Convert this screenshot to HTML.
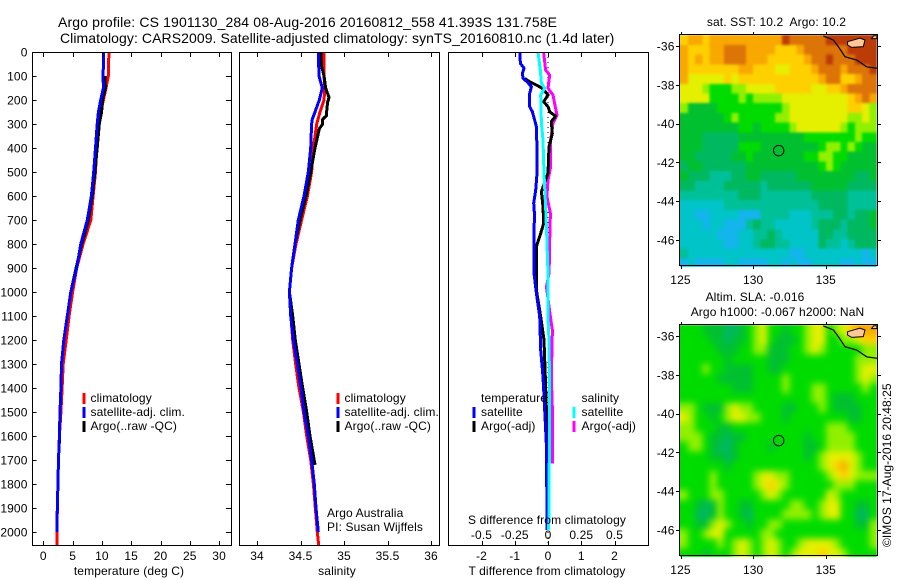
<!DOCTYPE html>
<html lang="en">
<head>
<meta charset="utf-8">
<title>Argo profile</title>
<style>
html,body{margin:0;padding:0;background:#fff;}
svg{display:block;}
text{font-family:"Liberation Sans",sans-serif;font-size:12px;fill:#000;letter-spacing:0.12px;}
.title{font-size:14px;}
.frame{fill:none;stroke:#000;stroke-width:1;shape-rendering:crispEdges;}
.tick{stroke:#000;stroke-width:1;shape-rendering:crispEdges;}
.mark{stroke-width:3;fill:none;shape-rendering:crispEdges;stroke-linejoin:round;}
.key{stroke-width:3;shape-rendering:crispEdges;}
</style>
</head>
<body>
<svg id="chart" xmlns="http://www.w3.org/2000/svg" width="900" height="580" viewBox="0 0 900 580">
  <defs>
    <filter id="soften-sst" color-interpolation-filters="sRGB"><feGaussianBlur stdDeviation="1.2"/></filter>
    <filter id="soften-sla" color-interpolation-filters="sRGB"><feGaussianBlur stdDeviation="3.5"/></filter>
  </defs>
  <rect width="900" height="580" fill="#fff"/>
  <text class="title" style="letter-spacing:0.14px" x="58" y="27">Argo profile: CS 1901130_284 08-Aug-2016 20160812_558 41.393S 131.758E</text>
  <text class="title" style="letter-spacing:0.076px" x="60" y="43">Climatology: CARS2009. Satellite-adjusted climatology: synTS_20160810.nc (1.4d later)</text>

  <g id="series-layer"></g>
  <g id="axis-layer"></g>

  <text x="129" y="575" text-anchor="middle">temperature (deg C)</text>
  <text x="337" y="575" text-anchor="middle">salinity</text>
  <text x="547" y="575" text-anchor="middle">T difference from climatology</text>
  <text x="547" y="524" text-anchor="middle">S difference from climatology</text>

  <g>
    <line class="key" x1="84" x2="84" y1="393" y2="404" stroke="#f00"/>
    <text x="90.5" y="402">climatology</text>
    <line class="key" x1="84" x2="84" y1="407" y2="418" stroke="#00f"/>
    <text x="90.5" y="416">satellite-adj. clim.</text>
    <line class="key" x1="84" x2="84" y1="421" y2="432" stroke="#000"/>
    <text x="90.5" y="430">Argo(..raw -QC)</text>
  </g>
  <g>
    <line class="key" x1="338" x2="338" y1="393" y2="404" stroke="#f00"/>
    <text x="344.5" y="402">climatology</text>
    <line class="key" x1="338" x2="338" y1="407" y2="418" stroke="#00f"/>
    <text x="344.5" y="416">satellite-adj. clim.</text>
    <line class="key" x1="338" x2="338" y1="421" y2="432" stroke="#000"/>
    <text x="344.5" y="430">Argo(..raw -QC)</text>
  </g>
  <text x="327" y="517">Argo Australia</text>
  <text x="327" y="531">PI: Susan Wijffels</text>
  <g>
    <text x="481" y="402">temperature</text>
    <line class="key" x1="474" x2="474" y1="407" y2="418" stroke="#00f"/>
    <text x="481" y="416">satellite</text>
    <line class="key" x1="474" x2="474" y1="421" y2="432" stroke="#000"/>
    <text x="481" y="430">Argo(-adj)</text>
    <text x="581.5" y="402">salinity</text>
    <line class="key" x1="574" x2="574" y1="407" y2="418" stroke="#0ff"/>
    <text x="581.5" y="416">satellite</text>
    <line class="key" x1="574" x2="574" y1="421" y2="432" stroke="#f0f"/>
    <text x="581.5" y="430">Argo(-adj)</text>
  </g>

  <g id="map-layer"></g>
  <text x="776.5" y="26" text-anchor="middle" xml:space="preserve">sat. SST: 10.2  Argo: 10.2</text>
  <text x="755" y="301" text-anchor="middle">Altim. SLA: -0.016</text>
  <text x="777.5" y="316" text-anchor="middle">Argo h1000: -0.067 h2000: NaN</text>
  <text style="letter-spacing:0.05px" transform="translate(891,547) rotate(-90)">©IMOS 17-Aug-2016 20:48:25</text>
</svg>
<script>
// ---------- profile data (depth in dbar) ----------
const tempClimDepth = [0,100,150,200,300,400,500,600,700,800,900,1000,1100,1200,1300,1400,1500,1600,1700,1800,1900,2000,2054];
const tempClimValue = [11.2,11.1,10.7,10.25,9.4,9.1,8.9,8.5,8.1,6.8,5.7,5.0,4.4,3.9,3.4,3.2,3.0,2.75,2.6,2.5,2.4,2.3,2.3];
const tempSatDepth = [0,100,150,200,250,300,400,500,600,700,800,900,1000,1100,1200,1300,1400,1500,1600,1700,1800,1900,1950,2000];
const tempSatValue = [10.3,10.2,10.25,9.8,9.4,9.2,8.9,8.6,8.2,7.5,6.4,5.7,4.7,4.1,3.5,3.1,3.0,2.85,2.75,2.6,2.5,2.4,2.3,2.3];
const tempArgoDepth = [100,150,200,250,300,400,500,600,700,800,900,1000,1100,1200,1300,1400,1500,1660];
const tempArgoValue = [10.5,10.6,10.1,9.95,9.55,9.2,8.8,8.35,7.7,6.55,5.6,4.7,4.1,3.5,3.1,3.0,2.85,2.7];

const salClimDepth = [0,100,150,200,250,300,400,500,600,700,800,900,1000,1100,1200,1300,1400,1500,1600,1700,1800,1900,2000,2054];
const salClimValue = [34.77,34.77,34.78,34.77,34.724,34.686,34.648,34.628,34.579,34.513,34.448,34.398,34.372,34.39,34.41,34.444,34.483,34.533,34.571,34.617,34.648,34.67,34.693,34.709];
const salSatDepth = [0,100,150,200,250,280,300,400,500,600,700,800,900,1000,1100,1200,1300,1400,1500,1600,1700,1800,1900,2000];
const salSatValue = [34.705,34.713,34.751,34.716,34.667,34.636,34.628,34.617,34.59,34.54,34.475,34.437,34.398,34.372,34.387,34.418,34.464,34.506,34.54,34.59,34.628,34.659,34.678,34.705];
const salArgoDepth = [0,60,100,150,190,210,250,265,280,300,320,400,500,600,700,800,900,1000,1100,1200,1300,1400,1500,1600,1720];
const salArgoValue = [34.732,34.743,34.77,34.79,34.828,34.812,34.8,34.8,34.755,34.755,34.716,34.667,34.617,34.563,34.494,34.437,34.398,34.372,34.41,34.44,34.483,34.525,34.571,34.609,34.667];

const diffTSatDepth = [0,47,68,89,110,124,144,172,228,249,311,408,505,575,630,672,783,922,1005,1103,1242,1353,1492,1630,1770,1992];
const diffTSatValue = [-0.85,-0.83,-0.72,-0.77,-0.75,-0.63,-0.5,-0.55,-0.55,-0.47,-0.35,-0.33,-0.33,-0.37,-0.43,-0.41,-0.42,-0.42,-0.35,-0.25,-0.22,-0.15,-0.1,-0.05,-0.04,-0.03];
const diffTArgoDepth = [110,124,138,151,179,207,228,249,267,290,339,394,505,582,644,714,769,811,922,992,1103,1200,1353,1478,1660];
const diffTArgoValue = [-0.7,-0.55,-0.35,-0.17,0,-0.13,0,0.05,0.23,0.1,0.13,0.03,0,-0.2,-0.15,-0.13,-0.25,-0.35,-0.35,-0.35,-0.22,-0.12,-0.08,-0.05,-0.04];
const diffSSatDepth = [0,75,130,151,179,297,367,505,644,783,922,1103,1214,1492,1992];
const diffSSatValue = [-0.075,-0.058,-0.05,-0.025,-0.055,-0.05,-0.0375,-0.03,-0.018,-0.008,0,0,0.008,0.0125,0.005];
const diffSArgoDepth = [0,75,96,151,179,214,262,297,367,478,533,603,672,783,922,978,1103,1158,1353,1492,1714];
const diffSArgoValue = [-0.033,-0.018,0.013,0,0.0375,0.05,0.068,0.0375,0.02,0.02,0,-0.008,0.018,0.013,0.008,-0.012,0.018,0.033,0.025,0.033,0.033];

// ---------- tick labels ----------
const depthTicks = [0,100,200,300,400,500,600,700,800,900,1000,1100,1200,1300,1400,1500,1600,1700,1800,1900,2000];
const tempTicks = [0,5,10,15,20,25,30];
const salTicks = [34,34.5,35,35.5,36];
const diffTTicks = [-2,-1,0,1,2];
const diffSTicks = [-0.5,-0.25,0,0.25,0.5];
const lonTicks = [125,130,135];
const latTicks = [36,38,40,42,44,46];

// ---------- map data: rows run north to south, columns west to east, 0.5 degree cells (colour level) ----------
const sstLevels = [
[8,9,9,8,9,9,9,9,9,9,9,9,9,9,11,10,10,10,10,10,11,11,11,11,11,11,11],
[9,8,8,8,9,9,10,10,10,9,9,9,9,8,8,8,9,10,10,10,10,10,10,11,11,11,11],
[9,8,9,8,9,9,10,10,10,9,9,9,8,8,8,8,8,9,10,10,11,10,10,10,11,11,11],
[9,8,8,8,8,8,8,8,9,9,8,8,8,7,7,8,8,8,9,10,10,10,9,10,10,10,11],
[9,7,7,7,7,7,8,7,8,8,8,8,8,8,8,8,8,8,8,9,10,10,8,8,9,10,10],
[7,7,7,6,5,5,5,6,6,7,7,7,7,8,8,8,8,8,7,7,8,8,9,10,10,10,10],
[7,7,7,7,5,5,5,5,6,5,6,6,6,6,7,7,7,7,7,7,7,7,7,8,9,10,9],
[6,4,4,4,4,5,5,5,5,5,5,5,5,5,6,7,7,7,7,7,7,7,7,8,8,7,6],
[4,4,4,4,4,4,5,6,5,5,5,5,5,6,6,7,7,7,7,7,7,7,7,6,6,7,6],
[4,4,4,4,4,4,4,4,5,5,4,5,5,5,5,6,7,7,7,7,7,7,6,5,6,6,6],
[4,4,4,3,3,3,3,3,4,4,4,4,4,4,4,4,4,5,5,5,5,5,5,5,6,5,5],
[4,4,4,3,3,3,3,3,5,5,5,4,4,4,4,4,4,4,4,5,6,6,5,6,5,4,4],
[4,4,3,3,3,3,3,4,4,5,4,4,4,4,4,4,4,5,5,6,6,5,5,4,4,4,4],
[3,4,4,3,3,3,3,3,3,4,4,4,4,4,4,4,4,4,4,5,6,5,4,4,4,4,4],
[4,3,3,3,2,2,2,3,3,4,4,3,3,3,3,3,4,4,4,4,4,4,4,4,3,3,4],
[3,3,2,2,2,2,3,3,3,3,3,2,3,3,3,3,3,3,4,4,4,4,4,3,3,3,3],
[2,2,2,2,2,2,2,2,3,3,3,2,2,2,2,2,2,2,3,3,3,3,3,2,2,2,2],
[1,1,1,1,1,1,2,2,2,2,2,2,2,2,2,2,2,2,2,3,3,3,3,2,2,2,2],
[1,1,0,0,1,1,1,1,0,0,0,2,2,2,2,1,1,1,2,2,2,3,3,2,3,3,4],
[1,1,1,0,1,1,0,0,0,2,3,2,2,1,1,1,1,1,2,3,3,3,2,3,3,3,4],
[1,1,1,1,1,0,0,0,1,1,2,2,3,2,1,1,1,1,1,3,3,2,2,3,3,3,3],
[1,1,1,1,1,1,0,0,1,1,2,3,3,2,2,1,1,1,1,3,2,2,1,2,3,3,3],
[2,1,1,1,1,1,1,1,1,1,1,1,1,1,1,0,0,1,1,1,1,1,1,1,1,0,1],
[0,1,0,0,0,0,1,1,0,0,0,0,1,1,0,1,0,0,1,1,1,1,0,0,1,0,0]
];
const slaLevels = [
[5,5,5,4,4,4,3,3,4,5,6,7,5,5,4,5,5,6,7,7,5,6,7,8,9,9,9],
[5,5,5,5,4,4,3,4,4,5,6,7,5,4,4,4,5,6,7,7,5,5,6,6,7,8,8],
[5,5,5,5,5,4,4,4,5,5,6,6,4,4,4,5,5,6,7,6,5,5,5,5,5,6,6],
[5,5,5,5,5,5,4,5,5,5,5,5,4,4,4,5,5,5,5,5,5,5,5,5,6,6,6],
[5,5,5,6,5,5,4,4,4,4,5,5,4,4,5,5,5,5,5,5,5,5,5,5,6,7,7],
[5,5,5,5,5,4,4,4,4,4,5,5,5,5,6,5,5,5,5,5,5,5,5,5,6,7,6],
[5,5,5,5,5,5,5,4,4,4,5,5,5,5,6,5,5,5,6,6,5,5,5,5,5,6,5],
[5,5,5,5,5,5,5,5,5,5,5,5,5,5,5,5,5,5,6,6,5,4,4,4,5,5,5],
[6,6,5,4,4,4,6,7,6,6,5,5,5,5,4,4,5,5,5,6,5,4,4,4,4,5,5],
[7,6,5,5,4,5,6,7,7,6,6,5,5,5,4,5,5,5,5,5,5,5,5,4,4,5,5],
[6,6,5,5,5,4,4,5,5,5,5,5,5,5,5,5,5,5,5,5,6,6,6,5,5,5,5],
[6,6,6,5,4,4,3,4,4,5,5,5,5,5,5,5,5,4,5,5,6,6,6,6,5,5,5],
[5,6,6,5,4,3,3,4,5,5,5,5,4,5,5,5,5,4,4,5,6,6,6,6,5,5,5],
[5,5,5,5,4,4,3,4,5,5,5,5,5,5,5,5,5,4,5,6,7,7,7,7,6,5,5],
[5,5,5,5,5,5,4,5,5,5,5,5,5,5,5,5,5,5,5,6,7,8,9,7,6,5,5],
[5,5,5,5,6,5,5,5,5,5,6,7,7,6,6,5,5,5,5,5,6,7,8,7,6,6,6],
[5,5,5,5,6,5,5,5,5,5,6,7,8,7,6,5,5,5,5,5,5,6,6,6,5,5,5],
[6,5,5,5,6,6,5,5,5,5,5,6,7,6,5,5,5,5,5,5,7,6,5,5,5,5,5],
[5,5,4,3,4,6,5,5,4,4,5,5,5,5,5,6,6,5,5,6,7,7,5,5,4,4,5],
[5,5,3,3,4,6,5,5,4,3,5,5,5,5,6,6,6,6,5,6,7,7,5,5,3,3,5],
[5,5,4,4,6,7,6,5,5,4,5,5,6,6,5,5,5,5,5,5,5,5,5,5,4,4,6],
[6,5,5,6,7,7,5,5,5,5,5,6,6,5,5,5,5,5,5,5,5,5,5,5,5,5,6],
[6,5,5,5,5,6,5,6,7,6,5,6,7,6,5,5,6,7,7,7,7,6,5,5,5,5,6],
[5,5,5,4,5,5,5,6,7,6,5,6,7,6,5,6,7,7,7,8,7,7,6,5,5,5,5]
];
const coastLon = [134.83,135.52,135.86,136.32,137.13,137.81,138.54];
const coastLat = [35.48,35.69,36.03,36.55,36.72,37.07,37.15];
const islandLon = [136.5,137.35,137.7,137.58,136.78,136.5];
const islandLat = [35.78,35.6,35.69,36.03,36.07,35.95];
const headlandLon = [138.15,138.3,138.52,138.52];
const headlandLat = [35.62,35.47,35.47,35.62];
const argoLon = [131.758];
const argoLat = [41.393];

// ---------- drawing ----------
const NS = 'http://www.w3.org/2000/svg';
const chartRoot = document.getElementById('chart');
const seriesLayer = document.getElementById('series-layer');
const axisLayer = document.getElementById('axis-layer');
const mapLayer = document.getElementById('map-layer');
const palette = ['#14b4ec','#00c4c8','#00c098','#00b860','#00c030','#00dc00','#90f000','#e4f000','#ffd000','#f8a800','#dc7408','#bc3c08'];

function make(tag, parent) {
  const el = document.createElementNS(NS, tag);
  parent.appendChild(el);
  return el;
}
const yDepth = d => 52 + 0.24 * d;
const xTemp = v => 43.3 + 5.86 * v;
const xSal = v => 257 + 87 * (v - 34);
const xDiffT = v => 548 + 33.25 * v;
const xDiffS = v => 548 + 133 * v;

function drawFrame(x0, x1, y0, y1, name) {
  const r = make('rect', axisLayer);
  r.setAttribute('class', 'frame');
  r.setAttribute('x', x0);
  r.setAttribute('y', y0);
  r.setAttribute('width', x1 - x0);
  r.setAttribute('height', y1 - y0);
  
  
}
function tickLine(parent, x1, y1, x2, y2) {
  const l = make('line', parent);
  l.setAttribute('class', 'tick');
  l.setAttribute('x1', x1);
  l.setAttribute('y1', y1);
  l.setAttribute('x2', x2);
  l.setAttribute('y2', y2);
  
  
}
function tickText(parent, x, y, anchor, str) {
  const t = make('text', parent);
  t.setAttribute('x', x);
  t.setAttribute('y', y);
  t.setAttribute('text-anchor', anchor);
  t.textContent = str;
  
  
}
function drawSeries(depths, values, xFn, color, name) {
  const p = make('polyline', seriesLayer);
  p.setAttribute('class', 'mark');
  p.setAttribute('stroke', color);
  p.setAttribute('points', depths.map((d, i) => xFn(values[i]).toFixed(1) + ',' + yDepth(d).toFixed(1)).join(' '));
  
  
}

// zero reference line in the difference panel
const zeroLine = make('line', seriesLayer);
zeroLine.setAttribute('x1', xDiffT(0));
zeroLine.setAttribute('x2', xDiffT(0));
zeroLine.setAttribute('y1', yDepth(0));
zeroLine.setAttribute('y2', yDepth(2054));
zeroLine.setAttribute('stroke', '#000');
zeroLine.setAttribute('stroke-dasharray', '1 4');
zeroLine.setAttribute('shape-rendering', 'crispEdges');



drawSeries(tempClimDepth, tempClimValue, xTemp, '#f00', 'temperature-climatology-line');
drawSeries(tempArgoDepth, tempArgoValue, xTemp, '#000', 'temperature-argo-line');
drawSeries(tempSatDepth, tempSatValue, xTemp, '#00f', 'temperature-satellite-line');
drawSeries(salClimDepth, salClimValue, xSal, '#f00', 'salinity-climatology-line');
drawSeries(salArgoDepth, salArgoValue, xSal, '#000', 'salinity-argo-line');
drawSeries(salSatDepth, salSatValue, xSal, '#00f', 'salinity-satellite-line');
drawSeries(diffSArgoDepth, diffSArgoValue, xDiffS, '#f0f', 's-difference-argo-line');
drawSeries(diffTArgoDepth, diffTArgoValue, xDiffT, '#000', 't-difference-argo-line');
drawSeries(diffTSatDepth, diffTSatValue, xDiffT, '#00f', 't-difference-satellite-line');
drawSeries(diffSSatDepth, diffSSatValue, xDiffS, '#0ff', 's-difference-satellite-line');

// frames
drawFrame(32.5, 231.5, 52.5, 545.5, 'temperature-panel-frame');
drawFrame(239.5, 439.5, 52.5, 545.5, 'salinity-panel-frame');
drawFrame(448.5, 648.5, 52.5, 545.5, 'difference-panel-frame');

// depth ticks
depthTicks.forEach(d => {
  const y = Math.round(yDepth(d)) + 0.5;
  tickLine(axisLayer, 32.5, y, 36.5, y);
  tickLine(axisLayer, 226, y, 231.5, y);
  tickText(axisLayer, 27.5, yDepth(d) + 4.5, 'end', String(d));
});
// bottom / top ticks
tempTicks.forEach(v => {
  const x = Math.round(xTemp(v)) + 0.5;
  tickLine(axisLayer, x, 52.5, x, 57);
  tickLine(axisLayer, x, 541, x, 545.5);
  tickText(axisLayer, xTemp(v), 560, 'middle', String(v));
});
salTicks.forEach(v => {
  const x = Math.round(xSal(v)) + 0.5;
  tickLine(axisLayer, x, 52.5, x, 57);
  tickLine(axisLayer, x, 541, x, 545.5);
  tickText(axisLayer, xSal(v), 560, 'middle', String(v));
});
diffTTicks.forEach(v => {
  const x = Math.round(xDiffT(v)) + 0.5;
  tickLine(axisLayer, x, 52.5, x, 57);
  tickLine(axisLayer, x, 541, x, 545.5);
  tickText(axisLayer, xDiffT(v), 560, 'middle', String(v));
});
diffSTicks.forEach(v => {
  tickText(axisLayer, xDiffS(v), 539, 'middle', String(v));
});

// maps
const xLon = lon => 680.5 + 14.53 * (lon - 125);
const yLat = (lat, base) => base + 19.4 * (lat - 36);

function linePath(lons, lats, base, closed) {
  return lons.map((lon, i) => (i ? 'L' : 'M') + xLon(lon).toFixed(1) + ' ' + yLat(lats[i], base).toFixed(1)).join(' ') + (closed ? ' Z' : '');
}
function drawMap(levels, base, prefix, softenId) {
  const top = base - 10.7;
  const bottom = base + 220.8;
  const g = make('g', mapLayer);
  
  

  // clip the softened image to the plot area
  const clip = make('clipPath', g);
  clip.setAttribute('id', prefix + '-clip');
  const clipRect = make('rect', clip);
  clipRect.setAttribute('x', 680);
  clipRect.setAttribute('y', top);
  clipRect.setAttribute('width', 196.7);
  clipRect.setAttribute('height', bottom - top);
  const clipper = make('g', g);
  clipper.setAttribute('clip-path', 'url(#' + prefix + '-clip)');
  
  
  const cells = make('g', clipper);
  cells.setAttribute('filter', 'url(#' + softenId + ')');
  
  

  levels.forEach((row, j) => {
    row.forEach((level, i) => {
      const c = make('rect', cells);
      let x0 = xLon(125 + i * 0.5);
      let x1 = xLon(125 + (i + 1) * 0.5);
      let y0 = yLat(35.45 + j * 0.5, base);
      let y1 = yLat(35.45 + (j + 1) * 0.5, base);
      if (i === 0) x0 -= 12;
      if (i === row.length - 1) x1 += 12;
      if (j === 0) y0 -= 12;
      if (j === levels.length - 1) y1 += 12;
      c.setAttribute('x', x0.toFixed(2));
      c.setAttribute('y', y0.toFixed(2));
      c.setAttribute('width', (x1 - x0 + 0.4).toFixed(2));
      c.setAttribute('height', (y1 - y0 + 0.4).toFixed(2));
      c.setAttribute('fill', palette[level]);
      c.setAttribute('shape-rendering', 'crispEdges');
      
      
    });
  });
  const island = make('path', g);
  island.setAttribute('d', linePath(islandLon, islandLat, base, true));
  island.setAttribute('fill', '#ffc896');
  island.setAttribute('stroke', '#000');
  
  
  const headland = make('path', g);
  headland.setAttribute('d', linePath(headlandLon, headlandLat, base, true));
  headland.setAttribute('fill', '#ffc896');
  headland.setAttribute('stroke', '#000');
  
  
  const coast = make('path', g);
  coast.setAttribute('d', linePath(coastLon, coastLat, base, false));
  coast.setAttribute('fill', 'none');
  coast.setAttribute('stroke', '#000');
  coast.setAttribute('stroke-width', '1.2');
  
  
  const marker = make('circle', g);
  marker.setAttribute('cx', xLon(argoLon[0]));
  marker.setAttribute('cy', yLat(argoLat[0], base));
  marker.setAttribute('r', 5.2);
  marker.setAttribute('fill', 'none');
  marker.setAttribute('stroke', '#000');
  
  
  const frame = make('rect', g);
  frame.setAttribute('class', 'frame');
  frame.setAttribute('x', 679.5);
  frame.setAttribute('y', Math.round(top) - 0.5);
  frame.setAttribute('width', 198);
  frame.setAttribute('height', 231);
  
  
  lonTicks.forEach(lon => {
    const x = Math.round(xLon(lon)) + 0.5;
    tickLine(g, x, Math.round(top) - 3, x, Math.round(top));
    tickLine(g, x, Math.round(top) + 231, x, Math.round(top) + 234);
    tickText(g, xLon(lon), Math.round(top) + 249, 'middle', String(lon));
  });
  latTicks.forEach(lat => {
    const y = Math.round(yLat(lat, base)) + 0.5;
    tickLine(g, 676, y, 679.5, y);
    tickLine(g, 877.5, y, 881, y);
    tickText(g, 674.5, yLat(lat, base) + 4.5, 'end', String(-lat));
  });
}
drawMap(sstLevels, 46, 'sst', 'soften-sst');
drawMap(slaLevels, 336, 'sla', 'soften-sla');
</script>
</body>
</html>
